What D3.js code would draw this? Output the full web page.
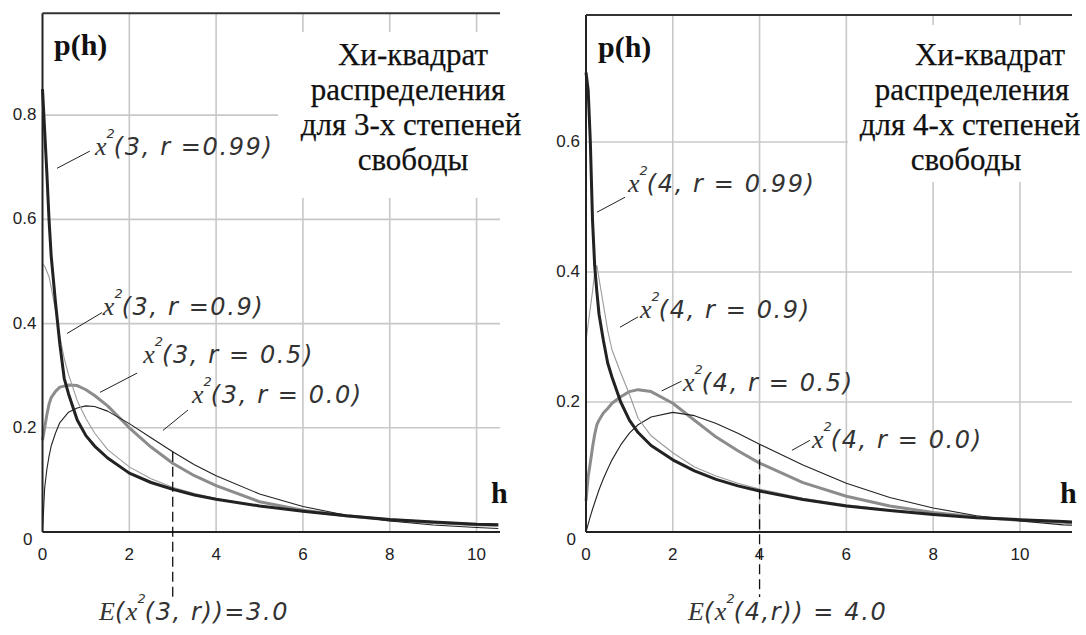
<!DOCTYPE html>
<html>
<head>
<meta charset="utf-8">
<script src="https://cdn.jsdelivr.net/npm/d3@7"></script>
<style>
  body { margin: 0; background: #fff; }
  svg { display: block; }
  .tick-label { font-family: "Liberation Sans", Arial, sans-serif; font-size: 17px; fill: #222; }
  .title { font-family: "Liberation Serif", "Times New Roman", serif; font-size: 31px; fill: #111; stroke: #111; stroke-width: 0.25px; }
  .axis-name { font-family: "Liberation Serif", "Times New Roman", serif; font-weight: bold; font-size: 30px; fill: #111; }
  .curve-label { font-family: "DejaVu Sans", sans-serif; font-style: italic; font-size: 24px; letter-spacing: 1.6px; fill: #333; }
  .serif-it { font-family: "Liberation Serif", serif; font-style: italic; letter-spacing: 0; }
</style>
</head>
<body>
<div id="chart"></div>
<script>
const H3 = [0, 0.05, 0.1, 0.15, 0.2, 0.3, 0.4, 0.5, 0.6, 0.8, 1.0, 1.2, 1.5, 2, 2.5, 3, 3.5, 4, 5, 6, 7, 8, 9, 10, 10.5];
const P3_r099 = [0.85, 0.77, 0.69, 0.60, 0.53, 0.44, 0.36, 0.295, 0.265, 0.215, 0.185, 0.165, 0.142, 0.113, 0.095, 0.082, 0.071, 0.063, 0.050, 0.040, 0.031, 0.024, 0.019, 0.015, 0.014];
const P3_r09 = [0.515, 0.51, 0.50, 0.49, 0.47, 0.425, 0.375, 0.333, 0.302, 0.252, 0.218, 0.19, 0.158, 0.125, 0.102, 0.086, 0.074, 0.064, 0.050, 0.039, 0.031, 0.024, 0.019, 0.015, 0.014];
const P3_r05 = [0.176, 0.2, 0.225, 0.245, 0.258, 0.27, 0.278, 0.28, 0.282, 0.281, 0.273, 0.262, 0.242, 0.2, 0.163, 0.132, 0.108, 0.089, 0.058, 0.042, 0.031, 0.023, 0.018, 0.014, 0.013];
const P3_r0 = [0, 0.085, 0.12, 0.145, 0.165, 0.19, 0.21, 0.22, 0.23, 0.238, 0.242, 0.241, 0.232, 0.208, 0.181, 0.154, 0.129, 0.108, 0.073, 0.049, 0.032, 0.021, 0.0135, 0.0085, 0.0068];

const H4 = [0, 0.05, 0.1, 0.15, 0.2, 0.25, 0.3, 0.4, 0.5, 0.6, 0.8, 1.0, 1.2, 1.5, 2, 2.5, 3, 3.5, 4, 5, 6, 7, 8, 9, 10, 11, 11.2];
const P4_r099 = [0.707, 0.68, 0.60, 0.48, 0.41, 0.37, 0.335, 0.295, 0.26, 0.238, 0.2, 0.172, 0.153, 0.133, 0.111, 0.094, 0.081, 0.071, 0.063, 0.05, 0.04, 0.033, 0.027, 0.022, 0.019, 0.016, 0.0155];
const P4_r09 = [0.293, 0.32, 0.345, 0.37, 0.40, 0.41, 0.39, 0.35, 0.31, 0.28, 0.245, 0.212, 0.175, 0.148, 0.122, 0.1, 0.086, 0.075, 0.066, 0.052, 0.042, 0.034, 0.028, 0.023, 0.019, 0.016, 0.0155];
const P4_r05 = [0.048, 0.085, 0.107, 0.13, 0.15, 0.165, 0.172, 0.183, 0.19, 0.198, 0.208, 0.216, 0.219, 0.216, 0.198, 0.172, 0.146, 0.125, 0.106, 0.076, 0.055, 0.04, 0.03, 0.023, 0.018, 0.015, 0.014];
const P4_r0 = [0, 0.012, 0.024, 0.035, 0.045, 0.055, 0.065, 0.082, 0.097, 0.111, 0.134, 0.152, 0.165, 0.177, 0.184, 0.179, 0.167, 0.152, 0.135, 0.103, 0.075, 0.053, 0.037, 0.025, 0.017, 0.011, 0.0104];

const xTicks = [0, 2, 4, 6, 8, 10];
const yTicks3 = [0, 0.2, 0.4, 0.6, 0.8];
const yTicks4 = [0, 0.2, 0.4, 0.6];

const title3 = ["Хи-квадрат", "распределения", "для 3-х степеней", "свободы"];
const title4 = ["Хи-квадрат", "распределения", "для 4-х степеней", "свободы"];
const labels3 = ["(3, r =0.99)", "(3, r =0.9)", "(3, r = 0.5)", "(3, r = 0.0)"];
const labels4 = ["(4, r = 0.99)", "(4, r = 0.9)", "(4, r = 0.5)", "(4, r = 0.0)"];
const mean3 = 3, mean4 = 4;
const meanText3 = "(3, r))=3.0";
const meanText4 = "(4,r)) = 4.0";

// line styles, same order as the series
const styles = [
  { color: "#8c8c8c", width: 3 },   // r = 0.5
  { color: "#222", width: 1.1 },    // r = 0.0
  { color: "#9a9a9a", width: 1.1 }, // r = 0.9
  { color: "#222", width: 3 }       // r = 0.99
];

const width = 1086, height = 635;
const svg = d3.select("#chart").append("svg")
  .attr("width", width)
  .attr("height", height);

// "x" with a raised 2, then the rest of the label
function squaredX(t, rest) {
  t.append("tspan").attr("class", "serif-it").attr("font-size", 26).text("x");
  t.append("tspan").attr("font-size", 13).attr("dy", -17).attr("dx", 0).attr("letter-spacing", 0).text("2");
  t.append("tspan").attr("dy", 17).attr("dx", -1).text(rest);
}

function drawPanel(cfg) {
  const x = d3.scaleLinear().domain([0, cfg.hMax]).range([cfg.left, cfg.right]);
  const y = d3.scaleLinear().domain([0, cfg.pMax]).range([cfg.bottom, cfg.top]);
  const g = svg.append("g");

  // grid
  g.selectAll(".vgrid").data(xTicks.filter(d => d > 0)).enter().append("line")
    .attr("x1", d => x(d)).attr("x2", d => x(d))
    .attr("y1", cfg.top).attr("y2", cfg.bottom)
    .attr("stroke", "#c8c8c8").attr("stroke-width", 1.6);
  g.selectAll(".hgrid").data(cfg.yTicks.filter(d => d > 0)).enter().append("line")
    .attr("x1", cfg.left).attr("x2", cfg.right)
    .attr("y1", d => y(d)).attr("y2", d => y(d))
    .attr("stroke", "#c8c8c8").attr("stroke-width", 1.6);

  // white box behind the title
  g.append("rect")
    .attr("x", cfg.box[0]).attr("y", cfg.box[1])
    .attr("width", cfg.box[2]).attr("height", cfg.box[3])
    .attr("fill", "#fff");

  // curves
  const line = d3.line().x(d => x(d[0])).y(d => y(d[1]));
  cfg.series.forEach((vals, i) => {
    g.append("path")
      .datum(cfg.h.map((h, j) => [h, vals[j]]))
      .attr("fill", "none")
      .attr("stroke", styles[i].color)
      .attr("stroke-width", styles[i].width)
      .attr("stroke-linejoin", "round")
      .attr("d", line);
  });

  // axes frame
  g.append("line").attr("x1", cfg.left).attr("x2", cfg.left)
    .attr("y1", cfg.top).attr("y2", cfg.bottom).attr("stroke", "#222").attr("stroke-width", 2);
  g.append("line").attr("x1", cfg.left).attr("x2", cfg.right)
    .attr("y1", cfg.bottom).attr("y2", cfg.bottom).attr("stroke", "#222").attr("stroke-width", 2);
  g.append("line").attr("x1", cfg.left).attr("x2", cfg.right)
    .attr("y1", cfg.top).attr("y2", cfg.top).attr("stroke", "#333").attr("stroke-width", 2);

  // tick labels
  g.selectAll(".xl").data(xTicks).enter().append("text")
    .attr("class", "tick-label")
    .attr("x", d => x(d)).attr("y", cfg.bottom + 28)
    .attr("text-anchor", "middle")
    .text(d => d);
  g.selectAll(".yl").data(cfg.yTicks).enter().append("text")
    .attr("class", "tick-label")
    .attr("x", d => d === 0 ? cfg.left - 10 : cfg.left - 6)
    .attr("y", d => y(d) + (d === 0 ? 13 : 5))
    .attr("text-anchor", "end")
    .text(d => d === 0 ? "0" : d3.format(".1f")(d));

  // axis names
  g.append("text").attr("class", "axis-name")
    .attr("x", cfg.pLabel[0]).attr("y", cfg.pLabel[1]).text("p(h)");
  g.append("text").attr("class", "axis-name")
    .attr("x", cfg.hLabel[0]).attr("y", cfg.hLabel[1]).text("h");

  // title
  g.selectAll(".title").data(cfg.title).enter().append("text")
    .attr("class", "title")
    .attr("x", (d, i) => cfg.titleX + cfg.titleDx[i])
    .attr("y", (d, i) => 65 + i * 35)
    .attr("text-anchor", "middle")
    .text(d => d);

  // curve labels with leaders
  cfg.labels.forEach((txt, i) => {
    const a = cfg.labelPos[i];
    g.append("line")
      .attr("x1", x(a.lead[0])).attr("y1", y(a.lead[1]))
      .attr("x2", x(a.lead[2])).attr("y2", y(a.lead[3]))
      .attr("stroke", "#222").attr("stroke-width", 1);
    const t = g.append("text").attr("class", "curve-label")
      .attr("x", x(a.at[0])).attr("y", y(a.at[1]));
    squaredX(t, txt);
  });

  // expectation marker
  const pAtMean = cfg.series[1][cfg.h.indexOf(cfg.mean)];
  g.append("line")
    .attr("x1", x(cfg.mean)).attr("x2", x(cfg.mean))
    .attr("y1", y(pAtMean)).attr("y2", 597)
    .attr("stroke", "#111").attr("stroke-width", 1.3)
    .attr("stroke-dasharray", "10,5");
  const e = g.append("text").attr("class", "curve-label")
    .attr("x", cfg.meanX).attr("y", 620);
  e.append("tspan").attr("class", "serif-it").attr("font-size", 26).text("E");
  e.append("tspan").text("(");
  squaredX(e, cfg.meanText);
}

drawPanel({
  left: 42.5, right: 500, top: 13.3, bottom: 532,
  hMax: 10.54, pMax: 0.9955,
  yTicks: yTicks3,
  h: H3, series: [P3_r05, P3_r0, P3_r09, P3_r099],
  box: [278, 32, 260, 166],
  title: title3, titleX: 411, titleDx: [2, -3, 0, 2],
  pLabel: [54, 55], hLabel: [491, 503],
  labels: labels3,
  labelPos: [
    { at: [1.21, 0.723], lead: [0.334, 0.698, 1.09, 0.731] },
    { at: [1.39, 0.416], lead: [0.565, 0.381, 1.37, 0.421] },
    { at: [2.32, 0.324], lead: [1.325, 0.268, 2.18, 0.305] },
    { at: [3.445, 0.247], lead: [2.776, 0.195, 3.35, 0.234] }
  ],
  mean: mean3, meanX: 99, meanText: meanText3
});

drawPanel({
  left: 586, right: 1072, top: 15, bottom: 532,
  hMax: 11.2, pMax: 0.7954,
  yTicks: yTicks4,
  h: H4, series: [P4_r05, P4_r0, P4_r09, P4_r099],
  box: [848, 25, 238, 157],
  title: title4, titleX: 970, titleDx: [20, 2, 0, -4],
  pLabel: [598, 57], hLabel: [1060, 503],
  labels: labels4,
  labelPos: [
    { at: [0.968, 0.5226], lead: [0.253, 0.492, 0.90, 0.515] },
    { at: [1.244, 0.330], lead: [0.783, 0.315, 1.20, 0.331] },
    { at: [2.235, 0.2165], lead: [1.744, 0.217, 2.2, 0.232] },
    { at: [5.207, 0.130], lead: [4.747, 0.1257, 5.16, 0.141] }
  ],
  mean: mean4, meanX: 688, meanText: meanText4
});
</script>
</body>
</html>
